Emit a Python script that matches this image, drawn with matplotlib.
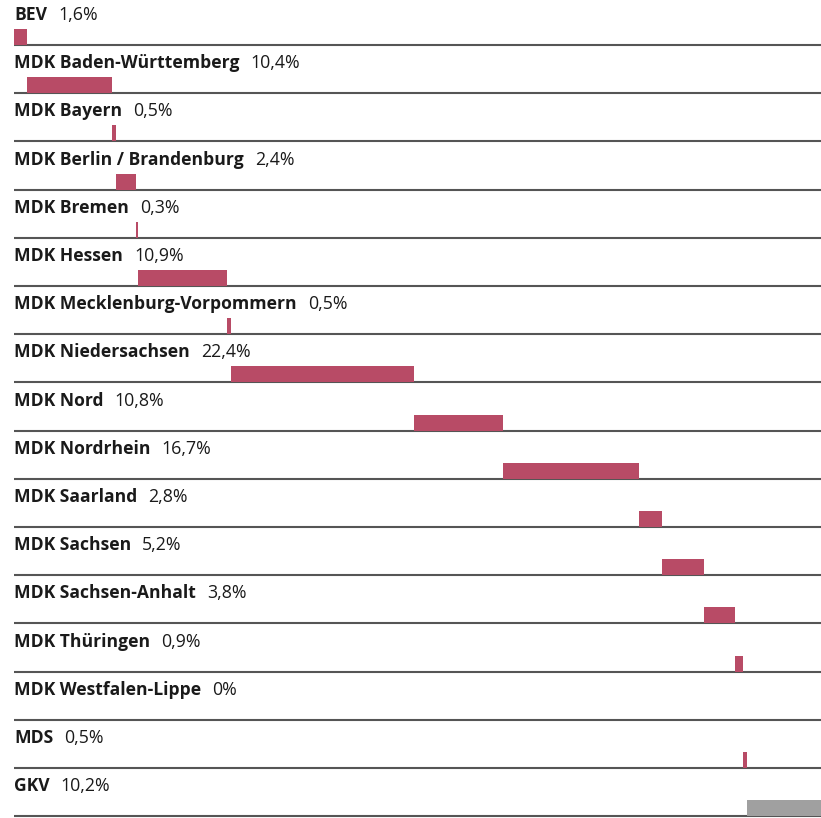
import matplotlib
matplotlib.use('Agg')
import matplotlib.pyplot as plt
import numpy as np

# Daten: Anteile je Organisation (in %)
labels = ['BEV', 'MDK Baden-Württemberg', 'MDK Bayern', 'MDK Berlin / Brandenburg',
          'MDK Bremen', 'MDK Hessen', 'MDK Mecklenburg-Vorpommern', 'MDK Niedersachsen',
          'MDK Nord', 'MDK Nordrhein', 'MDK Saarland', 'MDK Sachsen',
          'MDK Sachsen-Anhalt', 'MDK Thüringen', 'MDK Westfalen-Lippe', 'MDS', 'GKV']
values = [1.6, 10.4, 0.5, 2.4, 0.3, 10.9, 0.5, 22.4, 10.8, 16.7, 2.8, 5.2, 3.8, 0.9, 0.0, 0.5, 10.2]
value_labels = ['1,6%', '10,4%', '0,5%', '2,4%', '0,3%', '10,9%', '0,5%', '22,4%', '10,8%',
                '16,7%', '2,8%', '5,2%', '3,8%', '0,9%', '0%', '0,5%', '10,2%']
colors = ['#b84b66'] * 16 + ['#a0a0a0']

W, H = 821, 818
fig = plt.figure(figsize=(W / 100, H / 100), dpi=100)
ax = fig.add_axes([14 / W, 0, 1 - 14 / W, 1])

row_px = 48.2
top = 1 - 45 / row_px
ax.set_ylim(top + H / row_px, top)
ax.set_xlim(0, (W - 14) / 8.17)
ax.axis('off')

starts = np.concatenate([[0], np.cumsum(values)[:-1]])
bar_h = 16 / row_px

for i, (lab, v, vl, s, c) in enumerate(zip(labels, values, value_labels, starts, colors)):
    y = i + 1
    ax.axhline(y, color='#555555', lw=1.5, zorder=1)
    if v > 0:
        ax.barh(y - bar_h / 2, v, left=s, height=bar_h, color=c, zorder=2)
    t = ax.text(0, y - 25 / row_px, lab, fontsize=12.6, fontweight='bold',
                family='Open Sans', color='#1a1a1a', va='baseline', ha='left')
    ax.annotate(vl, xy=(1, 0), xycoords=t, xytext=(8, 0), textcoords='offset points',
                fontsize=12.8, family='Open Sans', color='#1a1a1a', va='bottom', ha='left')

fig.savefig('out.png', dpi=100)
